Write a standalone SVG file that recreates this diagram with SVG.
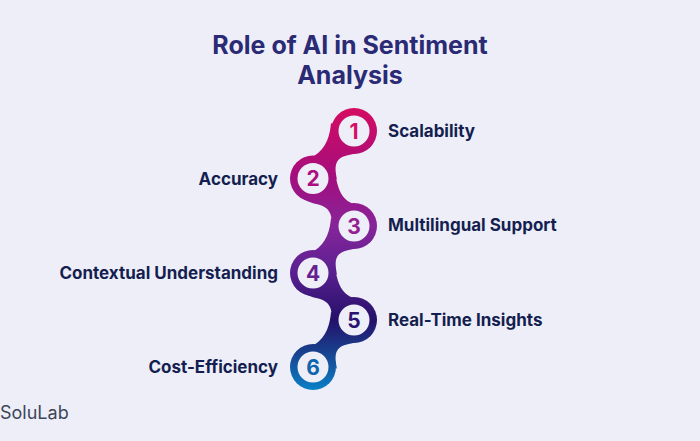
<svg xmlns="http://www.w3.org/2000/svg" width="700" height="441" viewBox="0 0 700 441">
<style>
text{font-family:Inter,"Liberation Sans",sans-serif}
.t{font-size:25px;font-weight:700;fill:#2a2a75;text-anchor:middle}
.l{font-size:17px;font-weight:650;fill:#141f50}
.e{text-anchor:end}
.d{font-size:21px;font-weight:700;text-anchor:middle}
.i{fill:#eeeef8}
.o,.c{fill:url(#g)}
</style>
<defs>
<linearGradient id="g" gradientUnits="userSpaceOnUse" x1="0" y1="108" x2="0" y2="390">
<stop offset="0" stop-color="#d40b62"/>
<stop offset=".25" stop-color="#a30e7e"/>
<stop offset=".42" stop-color="#86259a"/>
<stop offset=".58" stop-color="#5a2090"/>
<stop offset=".75" stop-color="#25106a"/>
<stop offset=".87" stop-color="#17438f"/>
<stop offset="1" stop-color="#0a80c6"/>
</linearGradient>
</defs>
<rect width="700" height="441" fill="#eeeef8"/>
<text class="t" x="350" y="54">Role of AI in Sentiment</text>
<text class="t" x="350" y="84">Analysis</text>
<g id="connectors">
<path class="c" d="M331,123C330,134 327,148 314,156L337,180C336,172 332,160 345,156C355,153 364,153 372,145Z"/>
<path class="c" d="M336,178C338,187 341,200 354,204L332,226C332,214 330,207 316,204C308,202 302,199 295,192Z"/>
<path class="c" d="M331,218C330,229 327,243 314,251L337,275C336,267 332,255 345,251C355,248 364,248 372,240Z"/>
<path class="c" d="M336,273C338,282 341,294 354,298L332,320C332,308 330,301 316,298C308,296 302,293 295,286Z"/>
<path class="c" d="M331,312C330,323 327,337 314,345L337,369C336,361 332,349 345,345C355,342 364,342 372,334Z"/>
</g>
<g id="node1"><circle class="o" cx="354" cy="131" r="23"/><circle class="i" cx="354" cy="131" r="15.500"/><text class="d" x="354" y="138.500" fill="#d30f66">1</text><text class="l" x="388" y="136.500">Scalability</text></g>
<g id="node2"><circle class="o" cx="313" cy="178.500" r="23"/><circle class="i" cx="313" cy="178.500" r="15.500"/><text class="d" x="313" y="186" fill="#ac0d80">2</text><text class="l e" x="278" y="184.500">Accuracy</text></g>
<g id="node3"><circle class="o" cx="354" cy="226" r="23"/><circle class="i" cx="354" cy="226" r="15.500"/><text class="d" x="354" y="233.500" fill="#952090">3</text><text class="l" x="388" y="231">Multilingual Support</text></g>
<g id="node4"><circle class="o" cx="313" cy="273" r="23"/><circle class="i" cx="313" cy="273" r="15.500"/><text class="d" x="313" y="280.500" fill="#662090">4</text><text class="l e" x="278" y="278.500">Contextual Understanding</text></g>
<g id="node5"><circle class="o" cx="354" cy="320" r="23"/><circle class="i" cx="354" cy="320" r="15.500"/><text class="d" x="354" y="327.500" fill="#2a1470">5</text><text class="l" x="388" y="325.500">Real-Time Insights</text></g>
<g id="node6"><circle class="o" cx="313" cy="367" r="23"/><circle class="i" cx="313" cy="367" r="15.500"/><text class="d" x="313" y="374.500" fill="#0f65ab">6</text><text class="l e" x="278" y="373">Cost-Efficiency</text></g>
<text x="0" y="419" style="font-size:18px;fill:#3c4658">SoluLab</text>
</svg>
